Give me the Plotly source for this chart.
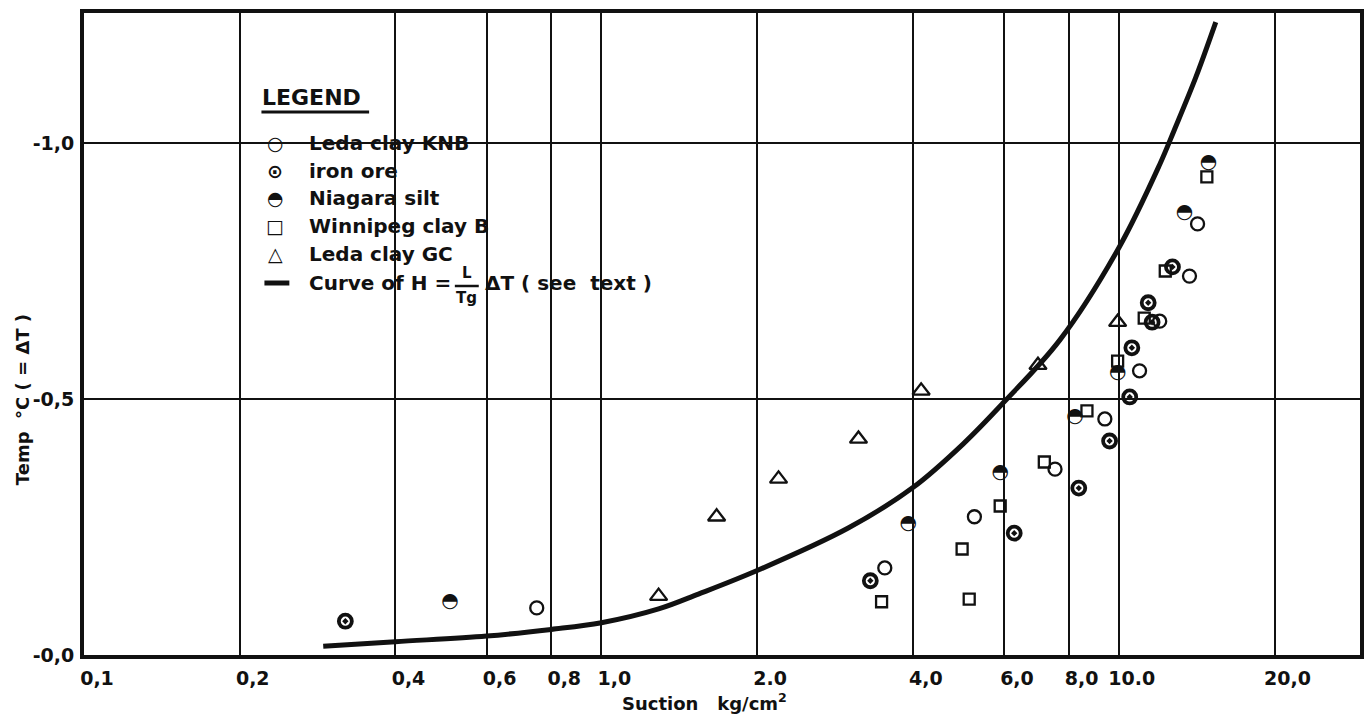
import plotly.graph_objects as go

# ---------------- data ----------------
knb_x = [0.75, 3.53, 5.26, 7.53, 9.4, 10.97, 12.0, 13.7, 14.2]
knb_y = [-0.092, -0.170, -0.270, -0.363, -0.461, -0.555, -0.652, -0.740, -0.842]

iron_x = [0.32, 3.31, 6.28, 8.37, 9.6, 10.5, 10.6, 11.4, 11.6, 12.7]
iron_y = [-0.066, -0.145, -0.238, -0.326, -0.418, -0.504, -0.600, -0.688, -0.650, -0.758]

niag_x = [0.51, 3.92, 5.9, 8.23, 9.95, 13.4, 14.9]
niag_y = [-0.104, -0.256, -0.355, -0.465, -0.551, -0.863, -0.961]

winn_x = [3.48, 4.98, 5.14, 5.9, 7.18, 8.68, 9.95, 11.2, 12.3, 14.8]
winn_y = [-0.104, -0.207, -0.109, -0.291, -0.377, -0.477, -0.574, -0.658, -0.750, -0.934]

gc_x = [1.29, 1.67, 2.20, 3.14, 4.15, 6.98, 9.95]
gc_y = [-0.115, -0.270, -0.344, -0.422, -0.516, -0.566, -0.650]

curve_x = [0.29, 0.4, 0.6, 0.8, 1.0, 1.29, 1.54, 2.0, 3.0, 4.0, 5.0, 6.0, 7.69, 10.0, 12.0, 12.8, 14.1, 15.4]
curve_y = [-0.017, -0.026, -0.037, -0.050, -0.063, -0.090, -0.119, -0.165, -0.248,
           -0.327, -0.412, -0.494, -0.615, -0.795, -0.958, -1.025, -1.129, -1.236]

x_tickvals = [0.1, 0.2, 0.4, 0.6, 0.8, 1.0, 2.0, 4.0, 6.0, 8.0, 10.0, 20.0]
x_ticktext = ["0,1", "0,2", "0,4", "0,6", "0,8", "1,0", "2.0", "4,0", "6,0", "8,0", "10.0", "20,0"]
y_tickvals = [0.0, -0.5, -1.0]
y_ticktext = ["-0,0", "-0,5", "-1,0"]

legend_names = ["Leda clay KNB", "iron ore", "Niagara silt", "Winnipeg clay B", "Leda clay GC"]
legend_symbols = ["○", "⊙", "◓", "□", "△"]

# ---------------- layout geometry (page pixels) ----------------
W, H = 1364, 715
PLOT_L, PLOT_T, PLOT_B = 84, 13, 655
L, T, B, R = PLOT_L, PLOT_T, H - PLOT_B, 0
PW, PH = W - L - R, H - T - B
DECADE = 519.0


def px(xp):
    return (xp - PLOT_L) / PW


def py(yp):
    return (PLOT_B - yp) / PH


FONT = "DejaVu Sans"
BLACK = "#111111"

fig = go.Figure()

# curve
fig.add_trace(go.Scatter(x=curve_x, y=curve_y, mode="lines",
                         line=dict(color=BLACK, width=5, shape="spline", smoothing=1.0),
                         showlegend=False, hoverinfo="skip"))

mk_line = dict(color=BLACK, width=2.3)
fig.add_trace(go.Scatter(x=knb_x, y=knb_y, mode="markers", name=legend_names[0], showlegend=False,
                         marker=dict(symbol="circle-open", size=13, line=mk_line, color=BLACK)))
fig.add_trace(go.Scatter(x=iron_x, y=iron_y, mode="markers", name=legend_names[1], showlegend=False,
                         marker=dict(symbol="circle-open-dot", size=13, line=dict(color=BLACK, width=3.8), color=BLACK)))
fig.add_trace(go.Scatter(x=niag_x, y=niag_y, mode="text", name=legend_names[2], showlegend=False,
                         text=["<b>◓</b>"] * len(niag_x), textposition="middle center",
                         textfont=dict(family=FONT, size=20, color=BLACK)))
fig.add_trace(go.Scatter(x=winn_x, y=winn_y, mode="markers", name=legend_names[3], showlegend=False,
                         marker=dict(symbol="square-open", size=11, line=mk_line, color=BLACK)))
fig.add_trace(go.Scatter(x=gc_x, y=gc_y, mode="markers", name=legend_names[4], showlegend=False,
                         marker=dict(symbol="triangle-up-open", size=15, line=mk_line, color=BLACK)))

shapes = []
# white masks behind the legend text (hide grid lines)
for (a, b, c, d) in [(246, 482, 80, 312), (482, 545, 80, 138), (482, 545, 148, 312), (545, 672, 268, 308)]:
    shapes.append(dict(type="rect", xref="paper", yref="paper", layer="below",
                       x0=px(a), x1=px(b), y0=py(d), y1=py(c),
                       fillcolor="white", line=dict(width=0)))
# underline of LEGEND
shapes.append(dict(type="line", xref="paper", yref="paper", x0=px(262), x1=px(370), y0=py(112), y1=py(112),
                   line=dict(color=BLACK, width=3)))
# curve legend dash
shapes.append(dict(type="line", xref="paper", yref="paper", x0=px(265), x1=px(290), y0=py(283), y1=py(283),
                   line=dict(color=BLACK, width=5)))
# fraction bar
shapes.append(dict(type="line", xref="paper", yref="paper", x0=px(456), x1=px(480), y0=py(286), y1=py(286),
                   line=dict(color=BLACK, width=2.5)))

ann = []
lf = dict(family=FONT, size=20, color=BLACK)
ann.append(dict(text="<b>LEGEND</b>", x=px(261), y=py(97), xref="paper", yref="paper",
                xanchor="left", yanchor="middle", showarrow=False, font=dict(family=FONT, size=22, color=BLACK)))
row_y = [143, 171, 198, 226, 254]
for sym, name, yy in zip(legend_symbols, legend_names, row_y):
    ann.append(dict(text="<b>%s</b>" % sym, x=px(276), y=py(yy), xref="paper", yref="paper",
                    xanchor="center", yanchor="middle", showarrow=False, font=dict(family=FONT, size=19, color=BLACK)))
    ann.append(dict(text="<b>%s</b>" % name, x=px(308), y=py(yy), xref="paper", yref="paper",
                    xanchor="left", yanchor="middle", showarrow=False, font=lf))
ann.append(dict(text="<b>Curve of H =</b>", x=px(308), y=py(283), xref="paper", yref="paper",
                xanchor="left", yanchor="middle", showarrow=False, font=lf))
ann.append(dict(text="<b>L</b>", x=px(468), y=py(273), xref="paper", yref="paper",
                xanchor="center", yanchor="middle", showarrow=False, font=dict(family=FONT, size=15, color=BLACK)))
ann.append(dict(text="<b>Tg</b>", x=px(468), y=py(298), xref="paper", yref="paper",
                xanchor="center", yanchor="middle", showarrow=False, font=dict(family=FONT, size=15, color=BLACK)))
ann.append(dict(text="<b>ΔT ( see  text )</b>", x=px(484), y=py(283), xref="paper", yref="paper",
                xanchor="left", yanchor="middle", showarrow=False, font=lf))
# axis titles
ann.append(dict(text="<b>Suction   kg/cm<sup>2</sup></b>", x=px(706), y=py(702), xref="paper", yref="paper",
                xanchor="center", yanchor="middle", showarrow=False, font=dict(family=FONT, size=18, color=BLACK)))
ann.append(dict(text="<b>Temp  °C ( = ΔT )</b>", x=px(22), y=py(400), xref="paper", yref="paper",
                xanchor="center", yanchor="middle", textangle=-90, showarrow=False,
                font=dict(family=FONT, size=18, color=BLACK)))

fig.update_layout(
    width=W, height=H,
    margin=dict(l=L, r=R, t=T, b=B),
    paper_bgcolor="white", plot_bgcolor="white",
    shapes=shapes, annotations=ann,
    showlegend=False,
)
fig.update_xaxes(type="log", range=[-1, -1 + PW / DECADE],
                 tickvals=x_tickvals, ticktext=["<b>%s</b>" % t for t in x_ticktext], ticks="",
                 tickfont=dict(family=FONT, size=19, color=BLACK),
                 ticklabelshift=13, ticklabelstandoff=3,
                 showgrid=True, gridcolor=BLACK, gridwidth=1.6,
                 showline=True, linecolor=BLACK, linewidth=4, mirror=True, zeroline=False)
fig.update_yaxes(range=[0.0, -(PLOT_B - PLOT_T) / 512.0],
                 tickvals=y_tickvals, ticktext=["<b>%s</b>" % t for t in y_ticktext], ticks="",
                 tickfont=dict(family=FONT, size=19, color=BLACK), ticklabelstandoff=2,
                 showgrid=True, gridcolor=BLACK, gridwidth=1.6,
                 showline=True, linecolor=BLACK, linewidth=4, mirror=True, zeroline=False)

fig.write_html("out.html", config={"displayModeBar": False},
               post_script="document.body.style.margin='0';document.body.style.overflow='hidden';")
